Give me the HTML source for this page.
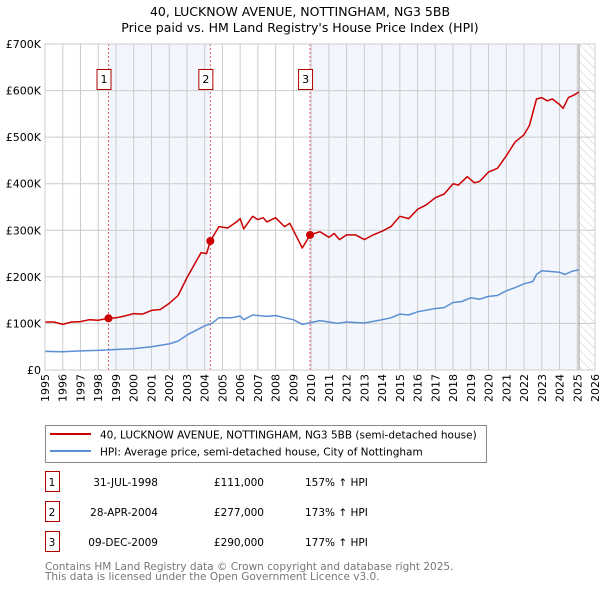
<!DOCTYPE html>
<html><head><meta charset="utf-8"><style>
body{margin:0;background:#fff;font-family:"Liberation Sans","DejaVu Sans",sans-serif;}
svg text{font-family:"DejaVu Sans","Liberation Sans",sans-serif;}
</style></head><body>
<svg id="chart" width="600" height="590" xmlns="http://www.w3.org/2000/svg">
<defs><pattern id="hatch" width="6" height="6" patternUnits="userSpaceOnUse" patternTransform="rotate(-45)"><line x1="0" y1="0" x2="0" y2="6" stroke="#ccc" stroke-width="1"/></pattern></defs>
<text x="300" y="16" text-anchor="middle" font-size="12.5">40, LUCKNOW AVENUE, NOTTINGHAM, NG3 5BB</text>
<text x="300" y="32" text-anchor="middle" font-size="12.5">Price paid vs. HM Land Registry's House Price Index (HPI)</text>
<g id="plot"></g>
<g>
<rect x="45.5" y="425.5" width="441" height="37" fill="#fff" stroke="#888"/>
<line x1="50" y1="434" x2="91" y2="434" stroke="#cc0000" stroke-width="2"/>
<text x="100" y="438.5" font-size="10.5">40, LUCKNOW AVENUE, NOTTINGHAM, NG3 5BB (semi-detached house)</text>
<line x1="50" y1="451" x2="91" y2="451" stroke="#5b8fd4" stroke-width="2"/>
<text x="100" y="455.5" font-size="10.5">HPI: Average price, semi-detached house, City of Nottingham</text>
</g>
<g id="table"></g>
<text x="45" y="570" font-size="10.5" fill="#777">Contains HM Land Registry data © Crown copyright and database right 2025.</text>
<text x="45" y="580" font-size="10.5" fill="#777">This data is licensed under the Open Government Licence v3.0.</text>
</svg>
<script>
const redYears=[1995,1995.5,1996,1996.5,1997,1997.5,1998,1998.58,1999,1999.5,2000,2000.5,2001,2001.5,2002,2002.5,2003,2003.5,2003.8,2004.1,2004.32,2004.8,2005.3,2005.8,2006,2006.2,2006.7,2007,2007.3,2007.5,2008,2008.5,2008.8,2009.2,2009.5,2009.94,2010.5,2011,2011.3,2011.6,2012,2012.5,2013,2013.5,2014,2014.5,2015,2015.5,2016,2016.5,2017,2017.5,2018,2018.3,2018.8,2019.2,2019.5,2020,2020.5,2021,2021.5,2022,2022.3,2022.7,2023,2023.3,2023.6,2024,2024.2,2024.5,2024.8,2025.1];
const redValues=[103,103,98,103,104,108,107,111,112,116,121,120,128,130,143,160,198,232,252,250,277,308,305,318,325,303,330,323,327,318,327,308,315,285,262,290,297,285,293,280,290,290,280,290,298,308,330,325,345,355,370,378,400,397,415,402,405,425,433,460,490,505,525,582,585,578,582,570,562,585,590,597];
const hpiYears=[1995,1996,1997,1998,1999,2000,2001,2002,2002.5,2003,2003.5,2004,2004.4,2004.8,2005.5,2006,2006.2,2006.7,2007.5,2008,2008.5,2009,2009.5,2010,2010.5,2011.5,2012,2013,2014,2014.5,2015,2015.5,2016,2017,2017.5,2018,2018.5,2019,2019.5,2020,2020.5,2021,2021.5,2022,2022.5,2022.7,2023,2024,2024.3,2024.7,2025.1];
const hpiValues=[40,39,41,42,44,46,50,56,62,75,85,95,100,112,112,116,108,118,115,117,112,108,98,102,106,100,103,101,108,112,120,118,125,132,134,145,147,155,152,158,160,170,177,185,190,205,213,210,205,212,215];
const saleNums=["1","2","3"];
const saleYears=[1998.58,2004.32,2009.94];
const saleValues=[111,277,290];
const saleDates=["31-JUL-1998","28-APR-2004","09-DEC-2009"];
const salePrices=["£111,000","£277,000","£290,000"];
const salePct=["157% ↑ HPI","173% ↑ HPI","177% ↑ HPI"];
const yTicks=[0,100,200,300,400,500,600,700];
const yTickLabels=["£0","£100K","£200K","£300K","£400K","£500K","£600K","£700K"];
const xStart=1995,xEnd=2026,dataEnd=2025.1;
const L=45,R=595,T=44,B=370;
const X=y=>L+(y-xStart)/(xEnd-xStart)*(R-L);
const Y=v=>B-v/700*(B-T);
const NS="http://www.w3.org/2000/svg";
const plot=document.getElementById('plot');
function mk(tag,attrs,parent){const e=document.createElementNS(NS,tag);for(const k in attrs)e.setAttribute(k,attrs[k]);(parent||plot).appendChild(e);return e;}
const sh1=mk('rect',{x:X(saleYears[0]),y:T,width:X(saleYears[1])-X(saleYears[0]),height:B-T,fill:'#f3f6fd'});


const sh2=mk('rect',{x:X(saleYears[2]),y:T,width:X(dataEnd)-X(saleYears[2]),height:B-T,fill:'#f3f6fd'});


const ht=mk('rect',{x:X(dataEnd),y:T,width:R-X(dataEnd),height:B-T,fill:'url(#hatch)'});


for(let yr=xStart;yr<=xEnd;yr++){
  const g=mk('line',{x1:X(yr),x2:X(yr),y1:T,y2:B,stroke:'#cccccc','stroke-width':1});
  
  
  const t=mk('text',{x:0,y:0,'font-size':11,'text-anchor':'end',transform:`translate(${X(yr)+4},${B+4}) rotate(-90)`});
  t.textContent=yr;
  
  
}
yTicks.forEach((v,i)=>{
  const g=mk('line',{x1:L,x2:R,y1:Y(v),y2:Y(v),stroke:'#cccccc','stroke-width':1});
  
  
  const t=mk('text',{x:L-4,y:Y(v)+4,'font-size':11,'text-anchor':'end'});
  t.textContent=yTickLabels[i];
  
  
});
const de=mk('line',{x1:X(dataEnd),x2:X(dataEnd),y1:T,y2:B,stroke:'#999','stroke-width':1});


saleYears.forEach((yr,i)=>{
  const l=mk('line',{x1:X(yr),x2:X(yr),y1:T,y2:B,stroke:'#e06070','stroke-width':1,'stroke-dasharray':'2,2'});
  
  
});
function path(xs,vs,col,name){
  const d=xs.map((x,i)=>(i?'L':'M')+X(x).toFixed(1)+','+Y(vs[i]).toFixed(1)).join('');
  const p=mk('path',{d:d,fill:'none',stroke:col,'stroke-width':1.5,'stroke-linejoin':'round'});
  
  
}
path(hpiYears,hpiValues,'#5b8fd4','hpi-line');
path(redYears,redValues,'#cc0000','price-paid-line');
saleYears.forEach((yr,i)=>{
  const c=mk('circle',{cx:X(yr),cy:Y(saleValues[i]),r:4,fill:'#cc0000'});
  
  
  const b=mk('rect',{x:X(yr)-11.5,y:69.5,width:14,height:20,fill:'#fff',stroke:'#b00000'});
  
  
  const t=mk('text',{x:X(yr)-4.5,y:83,'font-size':11,'text-anchor':'middle'});
  t.textContent=saleNums[i];
  
  
});
const ax=mk('rect',{x:L,y:T,width:R-L,height:B-T,fill:'none',stroke:'#cccccc'});


const tb=document.getElementById('table');
saleNums.forEach((n,i)=>{
  const y=483+i*30;
  const b=mk('rect',{x:45.5,y:y-11.5,width:14,height:20,fill:'#fff',stroke:'#b00000'},tb);
  
  
  const vals=[[52,n,'middle'],[158,saleDates[i],'end'],[264,salePrices[i],'end'],[305,salePct[i],'start']];
  vals.forEach(v=>{
    const t=mk('text',{x:v[0],y:y+3,'font-size':10.5,'text-anchor':v[2]},tb);
    t.textContent=v[1];
    
    
  });
});
</script>
</body></html>
